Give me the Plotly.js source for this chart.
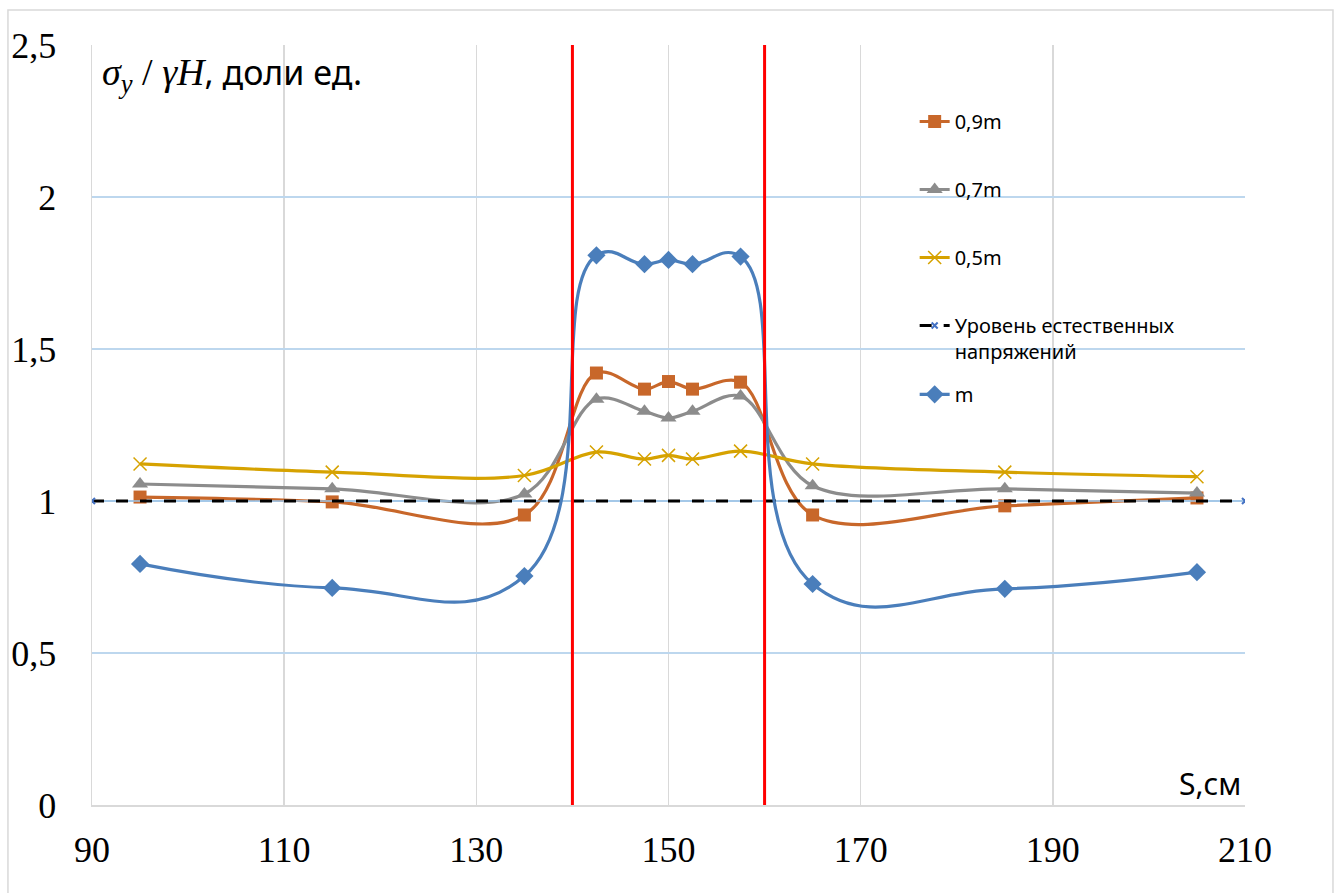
<!DOCTYPE html>
<html>
<head>
<meta charset="utf-8">
<script src="https://cdn.plot.ly/plotly-3.0.1.min.js"></script>
<style>html,body{margin:0;padding:0;background:#fff;}#chart{width:1338px;height:893px;}</style>
</head>
<body>
<div id="chart"></div>
<script>
// Data
const S = [95, 115, 135, 142.5, 147.5, 150, 152.5, 157.5, 165, 185, 205];
const m09 = [1.013, 0.997, 0.954, 1.421, 1.368, 1.393, 1.368, 1.391, 0.954, 0.984, 1.010];
const m07 = [1.056, 1.040, 1.023, 1.335, 1.295, 1.273, 1.295, 1.345, 1.050, 1.040, 1.026];
const m05 = [1.122, 1.095, 1.084, 1.161, 1.138, 1.150, 1.138, 1.164, 1.122, 1.095, 1.080];
const mVals = [0.793, 0.714, 0.753, 1.808, 1.779, 1.793, 1.779, 1.804, 0.727, 0.711, 0.766];
const levelX = [90, 210];
const levelY = [1, 1];
const boundaries = [140, 160];
const names = ['0,9m', '0,7m', '0,5m', 'Уровень естественных<br>напряжений', 'm'];

const lw = 3.2;
const traces = [
  {x: S, y: m09, name: names[0], mode: 'lines+markers', line: {color: '#c8672a', width: lw, shape: 'spline', smoothing: 1},
   marker: {symbol: 'square', size: 13, color: '#c8672a'}, legendgroup: 'a'},
  {x: S, y: m07, name: names[1], mode: 'lines+markers', line: {color: '#8c8c8c', width: lw, shape: 'spline', smoothing: 1},
   marker: {symbol: 'triangle-up', size: 14, color: '#8c8c8c'}, legendgroup: 'b'},
  {x: S, y: m05, name: names[2], mode: 'lines+markers', line: {color: '#d6a200', width: lw, shape: 'spline', smoothing: 1},
   marker: {symbol: 'x-thin-open', size: 13, color: '#d6a200', line: {color: '#d6a200', width: 1.5}}, legendgroup: 'c'},
  {x: levelX, y: levelY, name: names[3], mode: 'lines', line: {color: '#9dc3e6', width: 1.5}, showlegend: false, hoverinfo: 'skip'},
  {x: levelX, y: levelY, name: names[3], mode: 'lines+markers', line: {color: '#000000', width: 3, dash: '12px,12px'},
   marker: {symbol: 'x-thin-open', size: 6, color: '#4472c4', line: {color: '#4472c4', width: 2}}, legendgroup: 'd'},
  {x: S, y: mVals, name: names[4], mode: 'lines+markers', line: {color: '#4a7ebb', width: lw, shape: 'spline', smoothing: 1.3},
   marker: {symbol: 'diamond', size: 14, color: '#4a7ebb'}, legendgroup: 'e', legend: 'legend2'}
];

const shapes = boundaries.map(b => ({type: 'line', xref: 'x', yref: 'paper', x0: b, x1: b, y0: 0, y1: 1,
  line: {color: '#ff0000', width: 3}}));
// outer chart border
shapes.push({type: 'rect', xref: 'paper', yref: 'paper', x0: -0.0729, x1: 1.0763, y0: -0.13, y1: 1.046,
  line: {color: '#d9d9d9', width: 1.5}, layer: 'below'});

const legendFont = {family: 'Noto Sans, sans-serif', size: 20, color: '#000'};
const layout = {
  width: 1338, height: 893,
  margin: {l: 92, r: 93, t: 45, b: 88},
  paper_bgcolor: '#ffffff', plot_bgcolor: '#ffffff',
  separators: ', ',
  showlegend: true,
  legend: {x: 0.7135, xanchor: 'left', y: 0.925, yanchor: 'top', traceorder: 'grouped', tracegroupgap: 39,
    font: legendFont, bgcolor: 'rgba(0,0,0,0)', valign: 'top'},
  legend2: {x: 0.7135, xanchor: 'left', y: 0.566, yanchor: 'top', font: legendFont, bgcolor: 'rgba(0,0,0,0)'},
  xaxis: {range: [90, 210], tickvals: [90, 110, 130, 150, 170, 190, 210], ticks: '', showgrid: true, gridcolor: '#d9d9d9', gridwidth: 1.5,
    zeroline: false, showline: true, linecolor: '#d9d9d9', linewidth: 1.5, mirror: false,
    tickfont: {family: 'Liberation Serif, serif', size: 36, color: '#000'}, ticklabelstandoff: 12, fixedrange: true},
  yaxis: {range: [0, 2.5], tickvals: [0, 0.5, 1, 1.5, 2, 2.5], ticktext: ['0', '0,5', '1', '1,5', '2', '2,5'], ticks: '', showgrid: true, gridcolor: '#bdd7ee', gridwidth: 1.5,
    zeroline: false, showline: true, linecolor: '#d9d9d9', linewidth: 1.5,
    tickfont: {family: 'Liberation Serif, serif', size: 36, color: '#000'}, ticklabelstandoff: 27, fixedrange: true},
  shapes: shapes,
  annotations: [
    {xref: 'paper', yref: 'paper', x: 0.007, y: 0.962, xanchor: 'left', yanchor: 'middle', showarrow: false,
     text: '<span style="font-family:Liberation Serif, serif;font-style:italic;font-size:38px">σ<sub>y</sub></span><span style="font-family:Liberation Serif, serif;font-size:38px"> / </span><span style="font-family:Liberation Serif, serif;font-style:italic;font-size:38px">γH</span>, доли ед.',
     font: {family: 'Noto Sans, sans-serif', size: 34, color: '#000'}},
    {xref: 'paper', yref: 'paper', x: 0.998, y: 0.028, xanchor: 'right', yanchor: 'middle', showarrow: false,
     text: 'S,см', font: {family: 'Noto Sans, sans-serif', size: 30, color: '#000'}}
  ]
};

Plotly.newPlot('chart', traces, layout, {displayModeBar: false, staticPlot: true});
</script>
</body>
</html>
